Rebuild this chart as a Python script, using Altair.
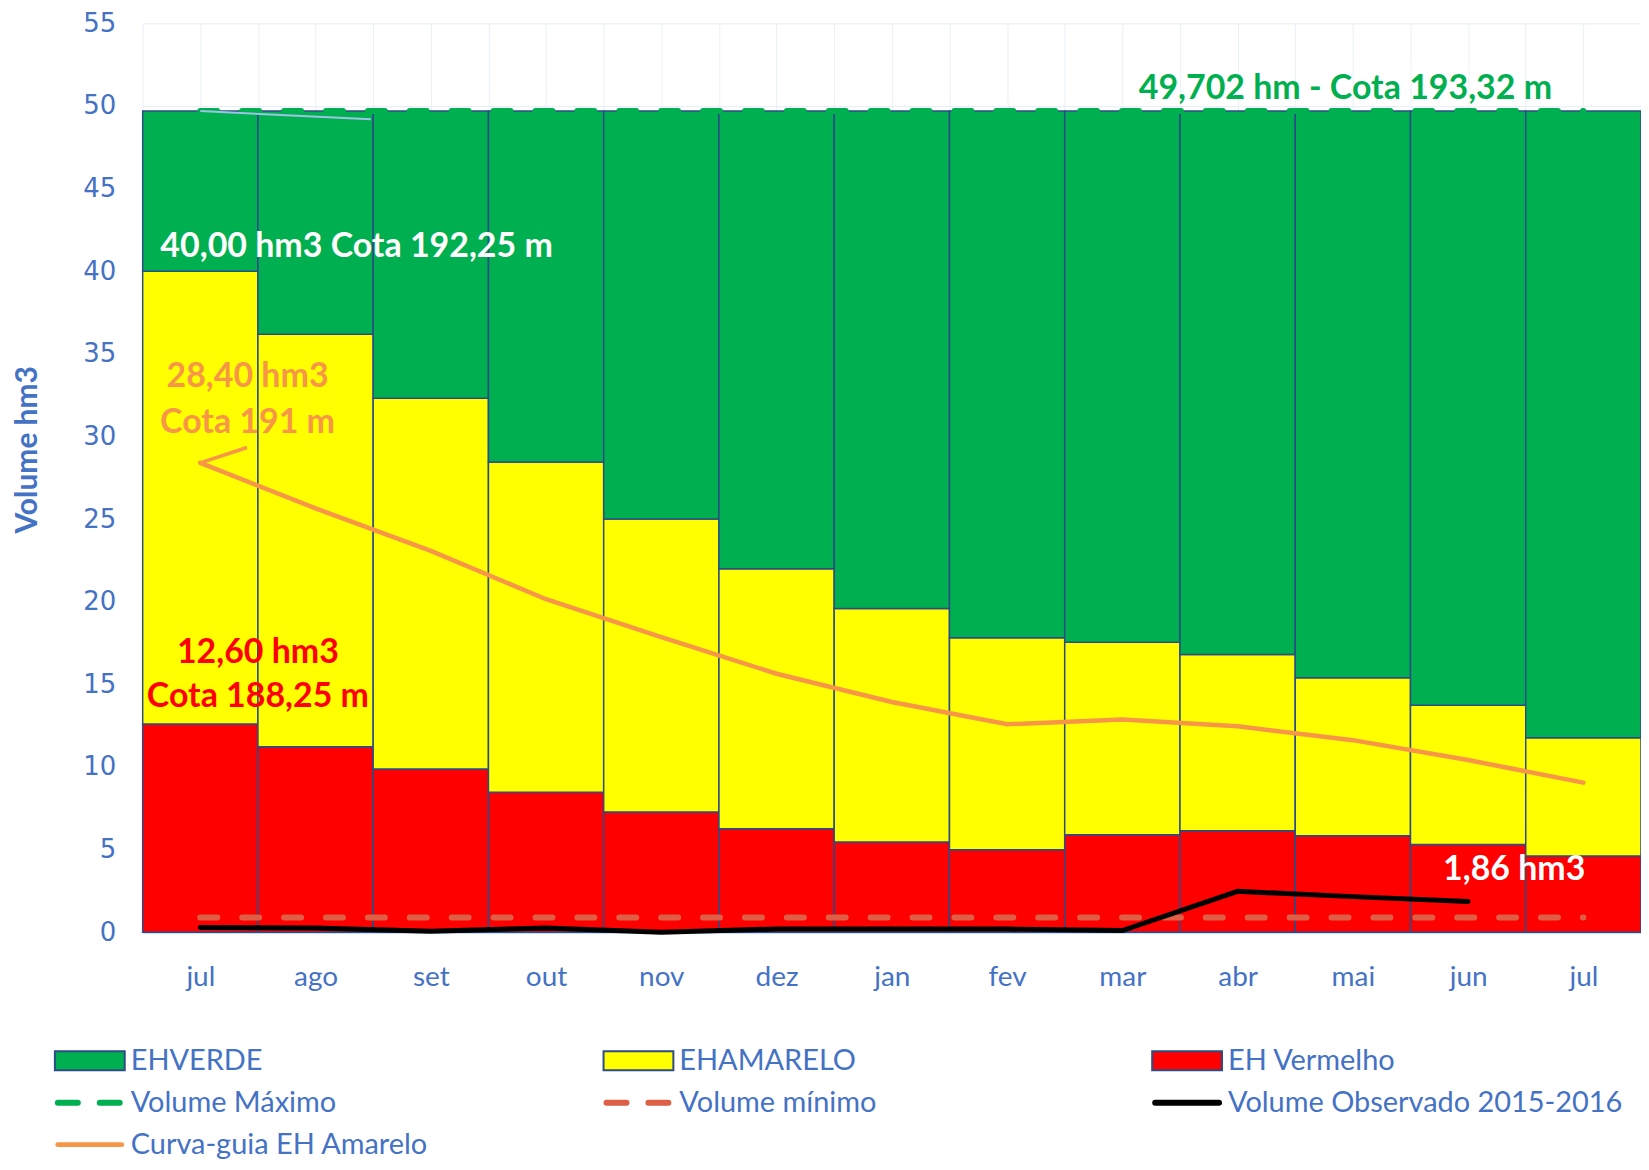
import altair as alt
import pandas as pd

# ---------------- data ----------------
months = ["jul", "ago", "set", "out", "nov", "dez", "jan", "fev", "mar", "abr", "mai", "jun", "jul"]
eh_vermelho_top = [12.60, 11.22, 9.88, 8.47, 7.27, 6.26, 5.46, 4.99, 5.90, 6.14, 5.84, 5.30, 4.61]
eh_amarelo_top = [40.00, 36.18, 32.31, 28.45, 25.01, 22.00, 19.59, 17.81, 17.55, 16.80, 15.40, 13.73, 11.76]
volume_maximo = 49.702
volume_minimo = 0.88
curva_guia = [28.40, 25.65, 23.07, 20.15, 17.85, 15.64, 13.93, 12.58, 12.87, 12.46, 11.62, 10.42, 9.05]
observado = [0.28, 0.25, 0.06, 0.25, 0.00, 0.19, 0.19, 0.19, 0.10, 2.47, 2.15, 1.86]

segments = ["EHVERDE", "EHAMARELO", "EH Vermelho"]
seg_colors = ["#00B050", "#FFFF00", "#FF0000"]

legend_names = ["EHVERDE", "EHAMARELO", "EH Vermelho",
                "Volume Máximo", "Volume mínimo", "Volume Observado 2015-2016",
                "Curva-guia EH Amarelo"]

ann_text = ["49,702 hm - Cota 193,32 m", "40,00 hm3 Cota 192,25 m", "28,40 hm3", "Cota 191 m",
            "12,60 hm3", "Cota 188,25 m", "1,86 hm3"]
ann_x = [9.935, 1.356, 0.41, 0.41, 0.50, 0.50, 11.40]
ann_y = [51.0, 41.44, 33.61, 30.8, 16.92, 14.23, 3.79]
ann_group = ["verde", "branco", "laranja", "laranja", "vermelho", "vermelho", "branco"]

# ---------------- tables ----------------
bar_rows = []
for i, m in enumerate(months):
    r, a = eh_vermelho_top[i], eh_amarelo_top[i]
    bar_rows.append({"i": i, "seg": "EH Vermelho", "lo": 0.0, "hi": r})
    bar_rows.append({"i": i, "seg": "EHAMARELO", "lo": r, "hi": a})
    bar_rows.append({"i": i, "seg": "EHVERDE", "lo": a, "hi": volume_maximo})
bars_df = pd.DataFrame(bar_rows)
bars_df["x0"] = bars_df["i"] - 0.5
bars_df["x1"] = bars_df["i"] + 0.5

last = len(months) - 1
max_df = pd.DataFrame({"i": [0, last], "v": [volume_maximo, volume_maximo]})
min_df = pd.DataFrame({"i": [0, last], "v": [volume_minimo, volume_minimo]})
curva_df = pd.DataFrame({"i": list(range(len(curva_guia))), "v": curva_guia})
obs_df = pd.DataFrame({"i": list(range(len(observado))), "v": observado})
# label leader lines
lead_or_df = pd.DataFrame({"i": [0, 0.405], "v": [curva_guia[0], 29.33]})
lead_bl_df = pd.DataFrame({"i": [0, 1.48], "v": [49.69, 49.2]})
ann_df = pd.DataFrame({"t": ann_text, "x": ann_x, "y": ann_y, "g": ann_group})

leg_df = pd.DataFrame({"name": legend_names})
leg_df["row"] = [k // 3 for k in range(len(legend_names))]
leg_df["col"] = [k % 3 for k in range(len(legend_names))]

# ---------------- scales / axes ----------------
BLUE = "#4472C4"
months_js = "[" + ",".join("'" + m + "'" for m in months) + "]"
xscale = alt.Scale(domain=[-0.5, 12.5], nice=False, zero=False)
yscale = alt.Scale(domain=[0, 55], nice=False)
xaxis = alt.Axis(
    values=[k * 0.5 for k in range(-1, 26)],
    labelExpr="datum.value % 1 == 0 ? " + months_js + "[datum.value] : ''",
    ticks=False, grid=True, gridColor="#EAF0F8", gridWidth=1,
    domainColor="#BDD3EE", domainWidth=2,
    labelFont="Lato", labelFontSize=28, labelColor=BLUE, labelPadding=31,
    title=None,
)
yaxis = alt.Axis(
    values=list(range(0, 56, 5)), ticks=False, domain=False,
    grid=True, gridColor="#E4ECF6", gridWidth=1,
    labelFont="DejaVu Sans", labelFontSize=26, labelColor=BLUE, labelPadding=27,
    title="Volume hm3", titleFont="Lato", titleFontSize=30, titleFontWeight="bold",
    titleColor=BLUE, titleX=-115, titleY=427, titleAngle=270,
    titleAlign="center", titleBaseline="middle",
)


def X(field):
    return alt.X(field, type="quantitative", scale=xscale, axis=xaxis)


def Y(field):
    return alt.Y(field, type="quantitative", scale=yscale, axis=yaxis)


color_scale = alt.Scale(domain=segments, range=seg_colors)

bars = alt.Chart(bars_df).mark_rect(stroke="#2B4C86", strokeWidth=1.5).encode(
    x=X("x0"), x2="x1", y=Y("lo"), y2="hi",
    color=alt.Color("seg:N", scale=color_scale, legend=None),
)

max_line = alt.Chart(max_df).mark_line(
    color="#00B050", strokeWidth=6, strokeDash=[17, 25], strokeCap="round"
).encode(x=X("i"), y=Y("v"))

min_line = alt.Chart(min_df).mark_line(
    color="#DD5F45", strokeWidth=6, strokeDash=[17, 25], strokeCap="round"
).encode(x=X("i"), y=Y("v"))

curva_line = alt.Chart(curva_df).mark_line(
    color="#F79646", strokeWidth=4.5, strokeCap="round"
).encode(x=X("i"), y=Y("v"))

obs_line = alt.Chart(obs_df).mark_line(
    color="#000000", strokeWidth=5, strokeCap="round"
).encode(x=X("i"), y=Y("v"))

lead_or = alt.Chart(lead_or_df).mark_line(color="#F79646", strokeWidth=3.5).encode(x=X("i"), y=Y("v"))
lead_bl = alt.Chart(lead_bl_df).mark_line(color="#9DC3E6", strokeWidth=2).encode(x=X("i"), y=Y("v"))

ann_colors = {"verde": "#00B050", "branco": "#FFFFFF", "laranja": "#F79646", "vermelho": "#FF0000"}
ann_layers = []
for g, c in ann_colors.items():
    ann_layers.append(
        alt.Chart(ann_df).transform_filter(alt.datum.g == g).mark_text(
            font="Lato", fontSize=34, fontWeight="bold", color=c,
            align="center", baseline="middle",
        ).encode(x=X("x"), y=Y("y"), text="t:N")
    )

main = alt.layer(bars, max_line, min_line, curva_line, obs_line, lead_or, lead_bl, *ann_layers)

# ---------------- custom legend ----------------
lx = alt.Scale(domain=[0, 2], range=[-88, 1012])
ly = alt.Scale(domain=[0, 2], range=[1040, 1124])
LX = alt.X("col:Q", scale=lx, axis=None)
LY = alt.Y("row:Q", scale=ly, axis=None)
SYMW = 70

leg_box = alt.Chart(leg_df).transform_filter(
    alt.FieldOneOfPredicate(field="name", oneOf=segments)
).mark_rect(x2Offset=SYMW, yOffset=-9.5, y2Offset=9.5, stroke="#2B4C86", strokeWidth=2).encode(
    x=LX, x2=alt.X2("col"), y=LY, y2=alt.Y2("row"),
    color=alt.Color("name:N", scale=color_scale, legend=None),
)

line_styles = {
    "Volume Máximo": dict(color="#00B050", strokeWidth=6, strokeDash=[20, 22], strokeCap="round", xOffset=3),
    "Volume mínimo": dict(color="#DD5F45", strokeWidth=6, strokeDash=[20, 22], strokeCap="round", xOffset=3),
    "Volume Observado 2015-2016": dict(color="#000000", strokeWidth=6, strokeCap="round", xOffset=3),
    "Curva-guia EH Amarelo": dict(color="#F79646", strokeWidth=5, strokeCap="round", xOffset=3),
}
leg_lines = []
for nm, st in line_styles.items():
    leg_lines.append(
        alt.Chart(leg_df).transform_filter(alt.datum.name == nm).mark_rule(
            x2Offset=SYMW - 3, **st
        ).encode(x=LX, x2=alt.X2("col"), y=LY)
    )

leg_text = alt.Chart(leg_df).mark_text(
    align="left", baseline="middle", dx=SYMW + 6, font="Lato", fontSize=29, color=BLUE
).encode(x=LX, y=LY, text="name:N")

legend = alt.layer(leg_box, *leg_lines, leg_text)

chart = alt.layer(main, legend).resolve_scale(x="independent", y="independent").properties(
    width=1502, height=911,
    padding={"left": 135, "top": 14, "right": 0, "bottom": 229},
    autosize=alt.AutoSizeParams(type="none"),
    background="white",
).configure_view(stroke=None)

chart.save("out.html", embed_options={"renderer": "svg", "actions": False})
